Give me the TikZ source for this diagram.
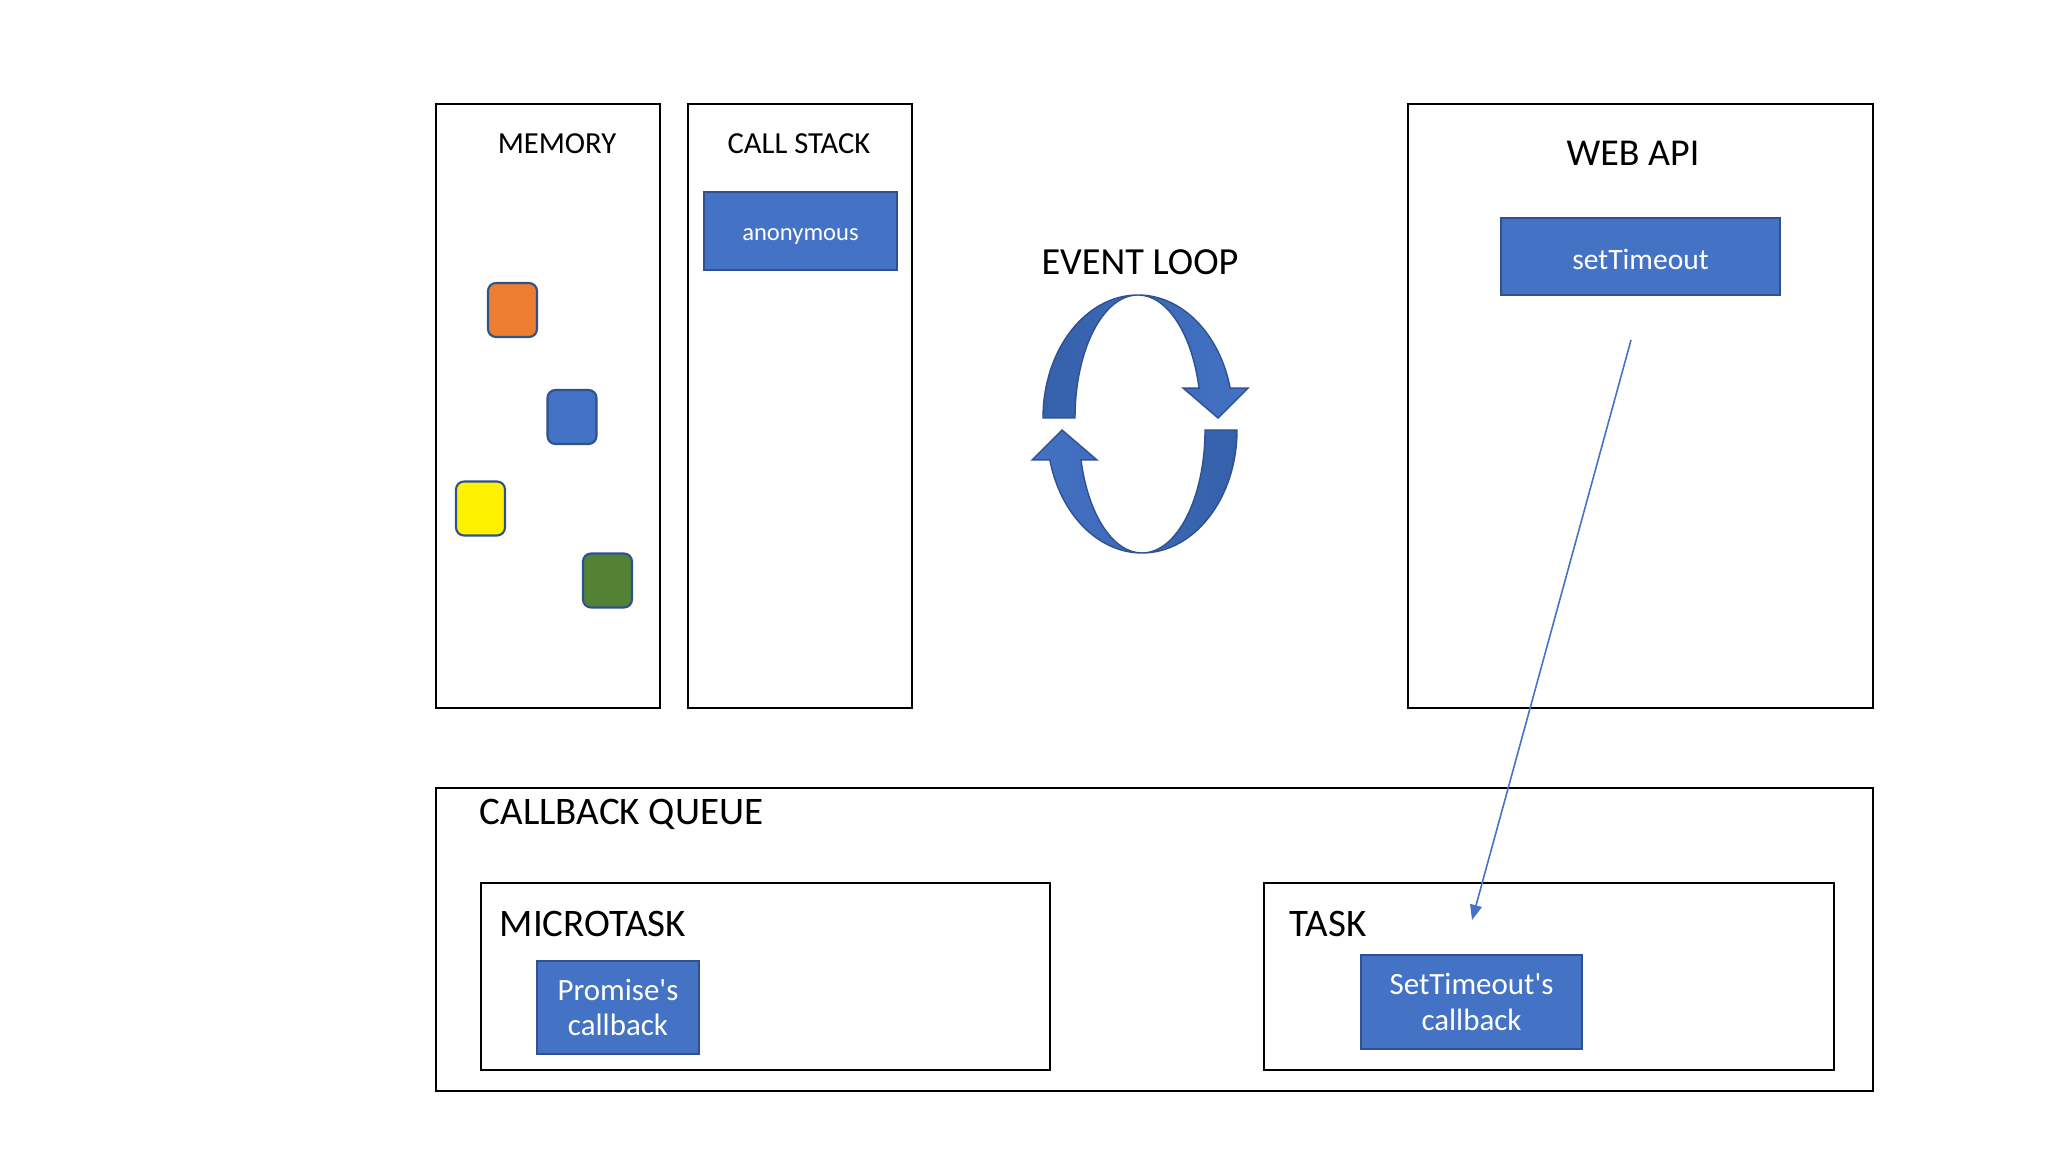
\documentclass[tikz,border=0pt]{standalone}
\usepackage{fontspec}
\setmainfont{Carlito}
\usetikzlibrary{arrows.meta,positioning}
\definecolor{officeblue}{HTML}{4472C4}
\definecolor{blueedge}{HTML}{2F528F}
\definecolor{loopdark}{HTML}{3560AA}
\definecolor{memorange}{HTML}{ED7D31}
\definecolor{memgreen}{HTML}{548235}

\begin{document}
\begin{tikzpicture}[x=0.1mm,y=-0.1mm,
  panel/.style={draw=black,line width=0.6pt,fill=white,inner sep=0pt},
  bluebox/.style={draw=blueedge,fill=officeblue,text=white,inner sep=0pt,align=center,line width=0.5pt},
  cell/.style={draw=blueedge,line width=0.6pt,rounded corners=0.8mm,minimum width=4.9mm,minimum height=5.4mm,inner sep=0pt},
  small title/.style={font=\fontsize{8.7}{10}\selectfont,inner sep=0pt,anchor=base},
  big title/.style={font=\fontsize{11.1}{13}\selectfont,inner sep=0pt,anchor=base west},
  timerarrow/.style={draw=officeblue,line width=0.45pt,-{Triangle[length=4.3pt,width=3.4pt]}}]

\useasboundingbox[fill=white] (0,0) rectangle (2048,1152);

% top row of panels
\node[panel,minimum width=22.4mm,minimum height=60.4mm] (memory) at (548,406) {};
\node[panel,minimum width=22.4mm,minimum height=60.4mm] (callstack) at (800,406) {};
\node[panel,minimum width=46.5mm,minimum height=60.4mm] (webapi) at (1640.5,406) {};

\node[small title] (memorytitle) at (557,154) {MEMORY};
\node[small title] (stacktitle) at (799,154) {CALL STACK};
\node[font=\fontsize{10.8}{13}\selectfont,inner sep=0pt,anchor=base] (webtitle) at (1633,166) {WEB API};
\node[font=\fontsize{10.9}{13}\selectfont,inner sep=0pt,anchor=base] (looptitle) at (1140,275) {EVENT LOOP};

\node[bluebox,minimum width=19.3mm,minimum height=7.8mm,font=\fontsize{7.0}{9}\selectfont] (anon) at (800.5,231) {\raisebox{-0.55mm}[\height][\depth]{anonymous}};
\node[bluebox,minimum width=27.9mm,minimum height=7.7mm,font=\fontsize{8.4}{10}\selectfont] (settimeout) at (1640.5,256.5) {\raisebox{-0.3mm}[\height][\depth]{setTimeout}};

% memory objects
\node[cell,fill=memorange] (objorange) at (512.5,310) {};
\node[cell,fill=officeblue] (objblue) at (572,417) {};
\node[cell,fill=yellow] (objyellow) at (480.5,508.5) {};
\node[cell,fill=memgreen] (objgreen) at (607.5,580.5) {};

% event loop
\begin{scope}[shift={(1140,424)},draw=blueedge,line width=0.4pt]
\shade[draw=blueedge,left color=loopdark,right color=officeblue]
  (-97,-6) .. controls (-97,-74) and (-54.4,-129) .. (-2,-129)
  .. controls (41.6,-129) and (79.6,-90.6) .. (90.2,-35.8)
  -- (108,-36) -- (78,-6) -- (43,-36) -- (59,-35.8)
  .. controls (52,-90.6) and (27,-129) .. (-2,-129)
  .. controls (-37,-129) and (-65,-74) .. (-65,-6) -- cycle;
\shade[draw=blueedge,left color=officeblue,right color=loopdark]
  (97,6) .. controls (97,74) and (54.4,129) .. (2,129)
  .. controls (-41.6,129) and (-79.6,90.6) .. (-90.2,35.8)
  -- (-108,36) -- (-78,6) -- (-43,36) -- (-59,35.8)
  .. controls (-52,90.6) and (-27,129) .. (2,129)
  .. controls (37,129) and (65,74) .. (65,6) -- cycle;
\end{scope}

% callback queue
\node[panel,minimum width=143.7mm,minimum height=30.3mm] (cbqueue) at (1154.5,939.5) {};
\node[big title] (cbtitle) at (479,825) {CALLBACK QUEUE};
\node[panel,minimum width=56.9mm,minimum height=18.7mm] (microtask) at (765.5,976.5) {};
\node[panel,minimum width=57mm,minimum height=18.7mm] (task) at (1549,976.5) {};
\node[big title] (microtitle) at (499,937) {MICROTASK};
\node[big title] (tasktitle) at (1289,937) {TASK};

\node[bluebox,minimum width=16.2mm,minimum height=9.3mm,font=\fontsize{8.8}{10}\selectfont] (promisecb) at (618,1007.5) {Promise\textquotesingle s\\callback};
\node[bluebox,minimum width=22.1mm,minimum height=9.4mm,font=\fontsize{8.8}{10}\selectfont] (timeoutcb) at (1471.5,1002) {SetTimeout\textquotesingle s\\callback};

% setTimeout hands its callback to the task queue
\coordinate (tmstart) at (1631,340);
\coordinate (tmend) at (1472,920);
\draw[timerarrow] (tmstart) -- (tmend);
\end{tikzpicture}
\end{document}
